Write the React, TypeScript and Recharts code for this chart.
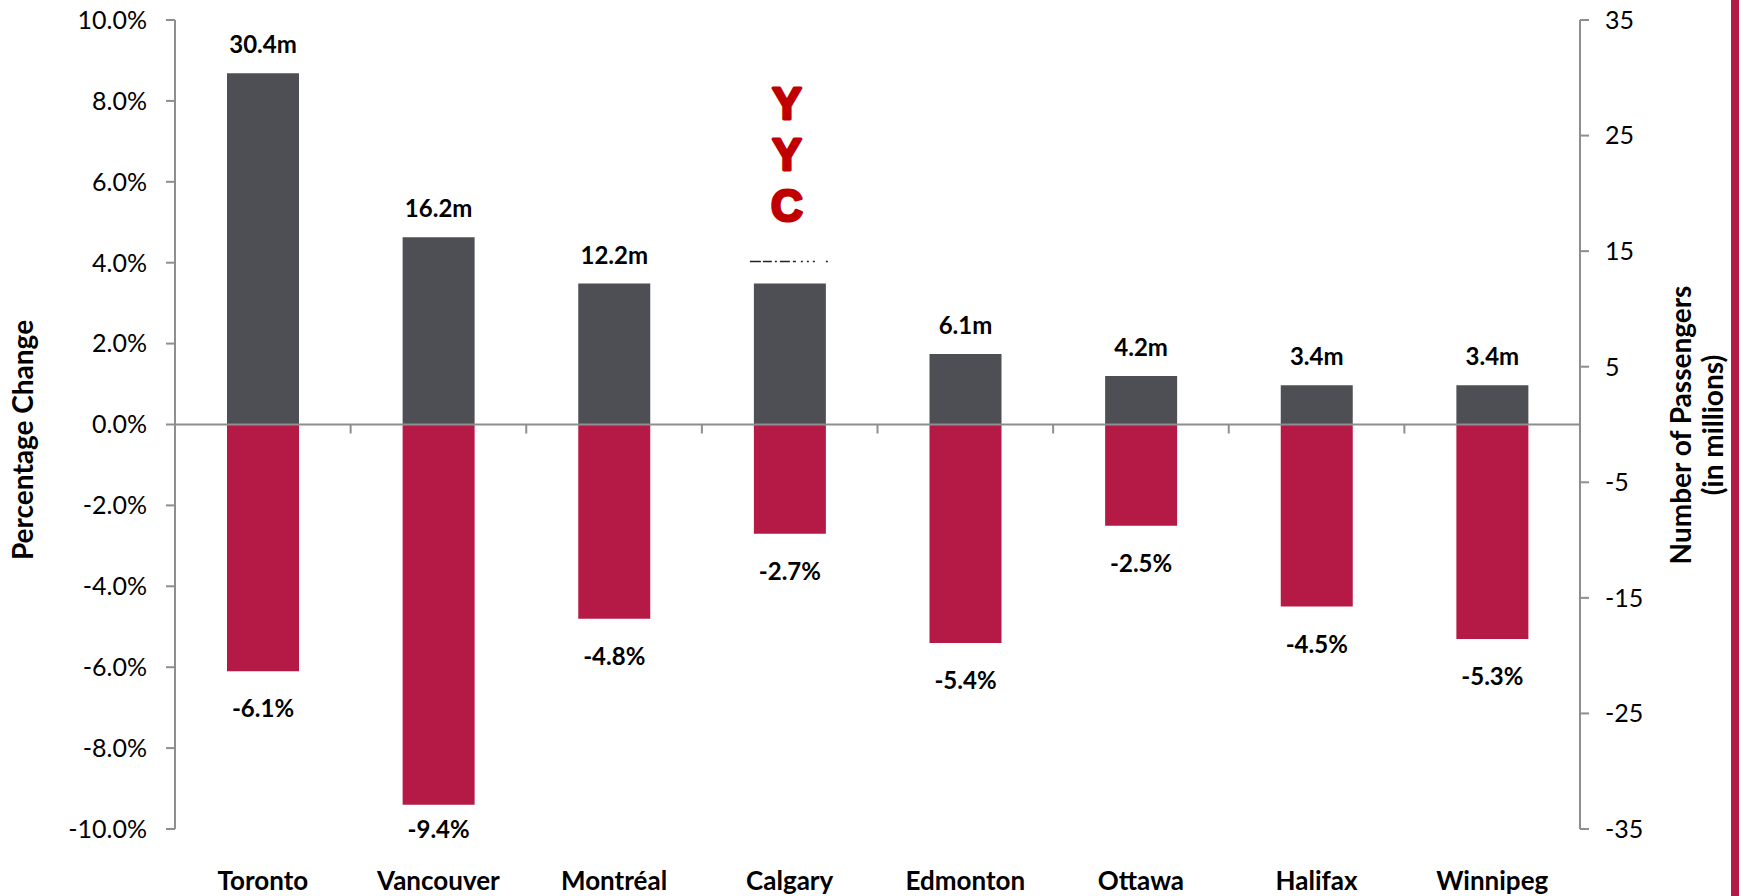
import React from 'react';
import { ComposedChart, Bar, XAxis, YAxis, ReferenceLine, LabelList, Label } from 'recharts';

const cities = ['Toronto', 'Vancouver', 'Montréal', 'Calgary', 'Edmonton', 'Ottawa', 'Halifax', 'Winnipeg'];
const passengers = [30.4, 16.2, 12.2, 12.2, 6.1, 4.2, 3.4, 3.4];
const pctChange = [-6.1, -9.4, -4.8, -2.7, -5.4, -2.5, -4.5, -5.3];
const pctTicks = [-10, -8, -6, -4, -2, 0, 2, 4, 6, 8, 10];
const paxTicks = [-35, -25, -15, -5, 5, 15, 25, 35];
const highlightCity = 'Calgary';
const highlightCode = ['Y', 'Y', 'C'];

const data = cities.map((city, i) => ({ city, passengers: passengers[i], pct: pctChange[i] }));

const FONT = 'Lato, "Open Sans", sans-serif';
const AXIS_GREY = '#8e8e8e';
const DARK = '#4e4f54';
const RED = '#b51a47';

// labels above the grey bars
const renderPaxLabel = (props: any) => {
  const { x, y, width, height, value, index } = props;
  const cx = x + width / 2;
  const top = Math.min(y, y + height);
  if (cities[index] === highlightCity) {
    // label is hidden behind the airport code in the original
    return (
      <g>
        <path
          d={`M${cx - 40},${top - 22}H${cx + 40}`}
          stroke="#222"
          strokeWidth={1.5}
          strokeDasharray="11 2 9 3 2 3 10 3 3 5 2 4 2 4 2"
        />
        {highlightCode.map((ch, k) => (
          <text
            key={k}
            x={cx - 3}
            y={top - 165 + k * 51}
            textAnchor="middle"
            fill="#c00000"
            fontFamily='"Liberation Sans", Arial, sans-serif'
            fontWeight={900}
            fontSize={44}
            stroke="#c00000"
            strokeWidth={3}
            strokeLinejoin="round"
          >
            {ch}
          </text>
        ))}
      </g>
    );
  }
  return (
    <text x={cx} y={top - 20} textAnchor="middle" fill="#000" fontFamily={FONT} fontWeight={700} fontSize={24}>
      {`${Number(value).toFixed(1)}m`}
    </text>
  );
};

// labels below the red bars, kept inside the plot like excel does
const renderPctLabel = (props: any) => {
  const { x, y, width, height, value } = props;
  const bottom = Math.max(y, y + height);
  return (
    <text
      x={x + width / 2}
      y={Math.min(bottom + 46, 838)}
      textAnchor="middle"
      fill="#000"
      fontFamily={FONT}
      fontWeight={700}
      fontSize={24}
    >
      {`${Number(value).toFixed(1)}%`}
    </text>
  );
};

const renderCityTick = ({ x, y, payload }: any) => (
  <text x={x} y={y + 61} textAnchor="middle" fill="#000" fontFamily={FONT} fontWeight={700} fontSize={26}>
    {payload.value}
  </text>
);

// zero line with little tick marks between the categories
const renderZeroLine = (props: any) => {
  const { x1, x2, y1 } = props;
  const step = (x2 - x1) / cities.length;
  const marks = [];
  for (let i = 0; i <= cities.length; i++) {
    const tx = x1 + i * step;
    marks.push(<line key={i} x1={tx} x2={tx} y1={y1} y2={y1 + 9} stroke={AXIS_GREY} strokeWidth={2} />);
  }
  return (
    <g>
      <line x1={x1} x2={x2} y1={y1} y2={y1} stroke={AXIS_GREY} strokeWidth={2} />
      {marks}
    </g>
  );
};

export default function App() {
  return (
    <div style={{ position: 'relative', width: 1743, height: 896, background: '#fff' }}>
      <style>{`body{margin:0}`}</style>
      <ComposedChart
        width={1743}
        height={896}
        data={data}
        margin={{ top: 20, right: 0, bottom: 0, left: 0 }}
        barGap={-72}
      >
        <XAxis
          dataKey="city"
          xAxisId="x"
          height={67}
          axisLine={false}
          tickLine={false}
          tickSize={0}
          tickMargin={0}
          interval={0}
          tick={renderCityTick}
        />
        <YAxis
          yAxisId="pct"
          orientation="left"
          width={175}
          domain={[-10, 10]}
          ticks={pctTicks}
          interval={0}
          tickFormatter={(v: number) => `${v.toFixed(1)}%`}
          axisLine={{ stroke: AXIS_GREY, strokeWidth: 2 }}
          tickLine={{ stroke: AXIS_GREY, strokeWidth: 2 }}
          tickSize={9}
          tickMargin={19}
          tick={{ fill: '#000', fontFamily: FONT, fontSize: 25 }}
        >
          <Label
            content={() => (
              <text
                transform="translate(33,440) rotate(-90)"
                textAnchor="middle"
                fill="#000"
                fontFamily={FONT}
                fontWeight={700}
                fontSize={28}
              >
                Percentage Change
              </text>
            )}
          />
        </YAxis>
        <YAxis
          yAxisId="pax"
          orientation="right"
          width={163}
          domain={[-35, 35]}
          ticks={paxTicks}
          interval={0}
          axisLine={{ stroke: AXIS_GREY, strokeWidth: 2 }}
          tickLine={{ stroke: AXIS_GREY, strokeWidth: 2 }}
          tickSize={9}
          tickMargin={16}
          tick={{ fill: '#000', fontFamily: FONT, fontSize: 25, textAnchor: 'start' }}
        >
          <Label
            content={() => (
              <text
                transform="translate(1691,425) rotate(-90)"
                textAnchor="middle"
                fill="#000"
                fontFamily={FONT}
                fontWeight={700}
                fontSize={28}
              >
                <tspan x={0} dy={0}>Number of Passengers</tspan>
                <tspan x={0} dy={32}>(in millions)</tspan>
              </text>
            )}
          />
        </YAxis>
        <Bar dataKey="passengers" xAxisId="x" yAxisId="pax" fill={DARK} barSize={72} isAnimationActive={false}>
          <LabelList dataKey="passengers" content={renderPaxLabel} />
        </Bar>
        <Bar dataKey="pct" xAxisId="x" yAxisId="pct" fill={RED} barSize={72} isAnimationActive={false}>
          <LabelList dataKey="pct" content={renderPctLabel} />
        </Bar>
        <ReferenceLine y={0} xAxisId="x" yAxisId="pct" shape={renderZeroLine} />
      </ComposedChart>
      <div style={{ position: 'absolute', left: 1731, top: 0, width: 8, height: 896, background: RED }} />
    </div>
  );
}
